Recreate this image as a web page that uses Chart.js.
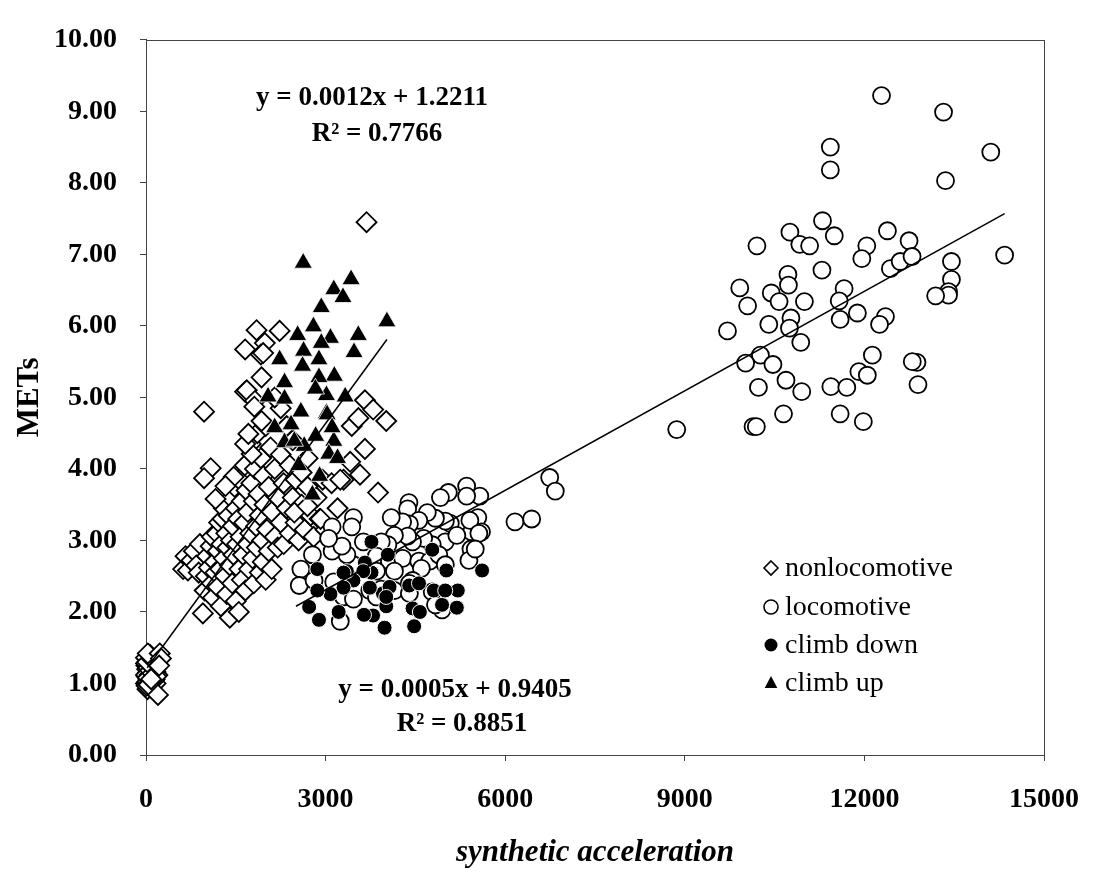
<!DOCTYPE html>
<html><head><meta charset="utf-8">
<script src="https://cdn.jsdelivr.net/npm/chart.js@4"></script>
<style>html,body{margin:0;padding:0;background:#fff}#wrap{width:1101px;height:873px}</style>
</head><body><div id="wrap"><canvas id="c" width="1101" height="873"></canvas></div>
<script>
const xTicks = [0, 3000, 6000, 9000, 12000, 15000];
const yTicks = [0, 1, 2, 3, 4, 5, 6, 7, 8, 9, 10];
const seriesLabels = ['nonlocomotive', 'locomotive', 'climb down', 'climb up'];

const nonlocomotive = [
 [0,1.0],[10,1.1],[20,1.2],[30,1.3],[40,1.05],[50,1.15],[60,1.25],[70,1.35],[80,0.95],[90,1.08],
 [100,1.18],[110,1.28],[120,1.02],[130,1.12],[140,1.22],[150,1.32],[5,1.25],[25,0.92],[45,1.38],[65,1.0],
 [85,1.2],[105,0.98],[125,1.3],[145,1.06],[160,1.16],[170,1.26],[35,1.15],[55,1.05],[75,1.15],[95,1.3],
 [115,1.1],[135,1.2],[15,1.35],[180,1.22],[190,1.12],[0,1.12],[0,1.28],[20,1.02],[40,1.22],[60,1.12],
 [80,1.28],[100,1.05],[120,1.16],[140,1.34],[160,1.0],[10,0.97],[30,1.08],[50,1.3],[70,1.18],[90,1.24],
 [110,1.14],[130,1.04],[150,1.2],[170,1.1],[0,1.36],[20,1.3],[45,0.98],[65,1.4],[85,1.06],[105,1.34],
 [30,1.42],[230,1.42],[200,0.84],[250,1.35],[220,1.25],
 [620,2.6],[660,2.78],[700,2.58],[760,2.72],[800,2.85],[840,2.65],[880,2.55],[900,2.95],[950,1.98],[980,2.3],
 [1000,2.5],[1020,2.78],[1050,2.62],[1080,2.92],[1100,2.4],[1100,3.05],[1120,2.2],[1150,2.7],[1160,2.55],[1180,3.1],
 [1200,2.85],[1200,2.35],[1220,3.25],[1240,2.6],[1250,2.08],[1260,2.95],[1280,3.3],[1300,2.75],[1300,3.45],[1320,2.5],
 [1340,3.1],[1350,2.25],[1360,2.9],[1380,3.35],[1400,1.92],[1400,2.65],[1420,3.0],[1420,3.6],[1440,2.4],[1450,3.2],
 [1460,2.8],[1480,3.75],[1500,2.15],[1500,3.45],[1520,2.95],[1540,3.3],[1550,2.0],[1560,2.6],[1560,3.85],[1580,3.05],
 [1600,3.55],[1600,2.45],[1620,2.8],[1640,3.25],[1650,4.05],[1660,2.3],[1680,3.7],[1700,2.95],[1700,3.4],[1720,2.6],
 [1740,3.1],[1750,4.35],[1760,3.8],[1780,2.75],[1800,3.55],[1800,2.4],[1820,4.0],[1840,3.2],[1850,2.9],[1860,4.5],
 [1880,3.65],[1900,2.55],[1900,3.35],[1920,4.15],[1940,3.0],[1950,2.7],[1960,3.9],[1980,3.5],[2000,2.45],[2000,4.6],
 [2020,3.15],[2050,2.85],[2050,3.75],[2080,4.3],[2100,3.4],[2100,2.6],[2150,3.05],[2150,4.0],[2200,3.6],[2200,2.9],
 [2250,3.25],[2250,4.2],[2300,3.8],[2300,2.95],[2350,3.45],[2400,3.1],[2400,4.05],[2450,3.6],[2500,3.25],[2500,3.85],
 [2550,3.0],[2600,3.5],[2650,3.15],[2700,3.75],[2750,3.35],[2800,3.05],[2850,3.6],[2900,3.3],[2950,3.85],[3000,3.15],
 [3100,3.8],[3200,3.45],[3300,3.85],[2600,3.95],[2700,4.15],[2450,4.4],[2350,4.6],[2250,4.85],[2150,5.0],
 [3684,7.45],[1847,5.94],[2232,5.93],[1985,5.76],[1656,5.67],[1919,5.60],[1957,5.62],[1930,5.28],[1656,5.08],[1683,5.10],
 [1820,4.95],[1810,4.87],[970,4.80],[3657,4.96],[3795,4.83],[4013,4.67],[3437,4.60],[3548,4.71],[3657,4.28],[3575,3.92],
 [3876,3.67],[3410,4.10],[1081,4.01],[970,3.87],[1765,4.21],[1656,4.35],[1710,4.49],[1930,4.67],[3245,3.85],[2916,3.30],
 [2478,3.39],[2697,3.48],[1464,3.89],[1327,3.76],[1162,3.58]
];

const locomotive = [
 [12286,9.22],[13322,8.99],[11431,8.50],[11431,8.18],[14111,8.43],[13355,8.03],[14342,6.99],[11300,7.47],[11497,7.26],[10756,7.31],
 [10921,7.14],[11085,7.12],[10205,7.12],[12385,7.33],[12746,7.19],[12040,7.12],[11957,6.94],[12434,6.80],[12598,6.90],[12796,6.97],
 [13454,6.90],[13454,6.65],[13405,6.48],[13405,6.43],[13190,6.42],[11291,6.78],[10723,6.72],[10731,6.57],[9918,6.53],[10444,6.46],
 [10575,6.34],[10049,6.28],[10998,6.34],[11661,6.52],[11579,6.35],[11883,6.18],[11595,6.09],[12352,6.13],[12253,6.02],[10773,6.11],
 [10748,5.97],[10403,6.02],[9713,5.93],[10937,5.77],[10263,5.59],[10016,5.48],[10472,5.46],[12133,5.59],[12878,5.49],[12800,5.50],
 [11908,5.36],[12049,5.31],[12895,5.18],[10230,5.14],[10690,5.24],[10953,5.08],[11440,5.15],[11706,5.14],[10649,4.77],[11595,4.77],
 [11982,4.66],[10140,4.59],[10195,4.59],[8865,4.55],
 [6743,3.88],[6837,3.69],[6163,3.26],[6442,3.30],
 [5576,3.62],[5356,3.76],[5356,3.62],[5050,3.67],[4918,3.60],[4392,3.53],[4370,3.44],[5543,3.32],[5604,3.12],[5439,3.12],
 [5410,3.28],[5083,3.24],[5000,3.27],[4835,3.31],[4699,3.39],[4557,3.28],[4400,3.23],[4287,3.26],[4096,3.32],[5560,3.10],
 [5428,2.88],[5394,2.72],[5000,2.98],[5192,3.07],[4781,2.94],[4638,3.03],[4452,2.98],[4370,3.06],[4150,3.07],[4040,2.94],
 [3930,2.98],[3849,2.78],[4066,2.71],[4287,2.75],[4557,2.71],[4740,2.71],[4890,2.80],[5000,2.66],[4600,2.61],[4150,2.57],
 [3850,2.57],[3629,2.62],[3465,2.66],[3355,2.80],[3109,2.85],[3273,2.92],[3465,3.32],[3437,3.19],[3109,3.19],[2780,2.80],
 [2587,2.60],[2560,2.37],[2807,2.44],[3136,2.42],[3300,2.21],[3739,2.30],[3930,2.32],[4150,2.30],[3245,1.87],[3465,2.18],
 [3849,2.21],[4781,2.28],[4945,2.03],[4452,2.44],[4400,2.40],[3050,3.03],[3630,2.98],[4400,2.26],[4835,2.10],[5500,2.88]
];

const climbDown = [
 [5614,2.58],[4781,2.87],[5017,2.58],[5208,2.30],[5192,2.06],[4945,2.10],[4808,2.30],[4998,2.30],[4397,2.37],[4560,2.40],
 [4452,2.05],[4575,2.00],[4479,1.80],[3985,1.78],[4013,2.08],[3793,1.95],[3641,1.96],[3958,2.26],[4068,2.35],[3739,2.34],
 [3766,2.55],[3656,2.69],[4040,2.80],[3766,2.98],[3629,2.57],[3465,2.44],[3300,2.34],[3081,2.25],[3218,2.00],[2889,1.89],
 [2725,2.07],[2862,2.30],[2862,2.60],[3355,2.57],[4013,2.21],[3300,2.55]
];

const climbUp = [
 [2626,6.88],[3426,6.65],[3137,6.51],[3290,6.40],[2928,6.26],[4024,6.06],[3546,5.87],[3475,5.63],[2796,5.99],[2533,5.87],
 [3081,5.83],[2928,5.76],[2632,5.65],[2232,5.53],[2889,5.53],[2615,5.44],[3146,5.30],[2889,5.28],[2314,5.21],[2039,5.01],
 [2314,4.98],[2587,4.80],[3014,5.03],[3327,5.01],[3014,4.78],[2423,4.62],[2149,4.58],[2834,4.46],[3137,4.39],[2643,4.32],
 [2314,4.37],[2830,5.12],[3026,4.76],[3109,4.58],[2478,4.39],[3054,4.21],[2780,3.64],[2900,3.9],[2550,4.05],[3200,4.15]
];

const trendSteep = [[20, 1.22], [4024, 5.81]];
const trendLocomotive = [[2505, 2.08], [14342, 7.57]];

const equationSteep = ['y = 0.0012x + 1.2211', 'R² = 0.7766'];
const equationLocomotive = ['y = 0.0005x + 0.9405', 'R² = 0.8851'];

const pts = a => a.map(p => ({x: p[0], y: p[1]}));
const serif = '"Liberation Serif", "Times New Roman", serif';

const framePlugin = {
  id: 'frame',
  beforeDatasetsDraw(chart) {
    const {ctx, chartArea: a} = chart;
    ctx.save();
    ctx.strokeStyle = '#444';
    ctx.lineWidth = 1;
    ctx.strokeRect(Math.round(a.left) + 0.5, Math.round(a.top) + 0.5, Math.round(a.right - a.left), Math.round(a.bottom - a.top));
    ctx.restore();
  }
};

function drawMarker(ctx, style, x, y, r) {
  ctx.beginPath();
  if (style === 'diamond') {
    ctx.moveTo(x, y - r); ctx.lineTo(x + r, y); ctx.lineTo(x, y + r); ctx.lineTo(x - r, y); ctx.closePath();
    ctx.fillStyle = '#fff'; ctx.fill(); ctx.lineWidth = 1.6; ctx.strokeStyle = '#000'; ctx.stroke();
  } else if (style === 'open') {
    ctx.arc(x, y, r, 0, Math.PI * 2);
    ctx.fillStyle = '#fff'; ctx.fill(); ctx.lineWidth = 1.6; ctx.strokeStyle = '#000'; ctx.stroke();
  } else if (style === 'filled') {
    ctx.arc(x, y, r, 0, Math.PI * 2);
    ctx.fillStyle = '#000'; ctx.fill();
  } else {
    ctx.moveTo(x, y - r); ctx.lineTo(x + r * 0.9, y + r * 0.7); ctx.lineTo(x - r * 0.9, y + r * 0.7); ctx.closePath();
    ctx.fillStyle = '#000'; ctx.fill();
  }
}

const legendPlugin = {
  id: 'customLegend',
  afterDraw(chart) {
    const {ctx} = chart;
    const styles = ['diamond', 'open', 'filled', 'triangle'];
    const sizes = [7, 7, 6.5, 7];
    const rowsY = [568, 607, 645, 683];
    ctx.save();
    ctx.font = '28px ' + serif;
    ctx.textBaseline = 'middle';
    ctx.textAlign = 'left';
    seriesLabels.forEach((lab, i) => {
      drawMarker(ctx, styles[i], 771, rowsY[i], sizes[i]);
      ctx.fillStyle = '#000';
      ctx.fillText(lab, 785, rowsY[i] + 1);
    });
    ctx.restore();
  }
};

const equationPlugin = {
  id: 'equations',
  afterDraw(chart) {
    const {ctx} = chart;
    ctx.save();
    ctx.font = 'bold 27px ' + serif;
    ctx.fillStyle = '#000';
    ctx.textAlign = 'center';
    ctx.textBaseline = 'middle';
    ctx.fillText(equationSteep[0], 372, 98);
    ctx.fillText(equationSteep[1], 377, 134);
    ctx.fillText(equationLocomotive[0], 455, 690);
    ctx.fillText(equationLocomotive[1], 462, 724);
    ctx.restore();
  }
};

new Chart(document.getElementById('c'), {
  type: 'scatter',
  data: {
    datasets: [
      {label: 'trend steep', data: pts(trendSteep), showLine: true, pointRadius: 0, borderColor: '#000', borderWidth: 1.5, order: 0},
      {label: 'trend locomotive', data: pts(trendLocomotive), showLine: true, pointRadius: 0, borderColor: '#000', borderWidth: 1.5, order: 0},
      {label: seriesLabels[3], data: pts(climbUp), pointStyle: 'triangle', pointRadius: 10.5, backgroundColor: '#000', borderColor: '#fff', borderWidth: 0.8, order: 1, clip: false},
      {label: seriesLabels[2], data: pts(climbDown), pointStyle: 'circle', pointRadius: 7.5, backgroundColor: '#000', borderColor: '#fff', borderWidth: 1, order: 2, clip: false},
      {label: seriesLabels[1], data: pts(locomotive), pointStyle: 'circle', pointRadius: 8.5, backgroundColor: '#fff', borderColor: '#000', borderWidth: 1.8, order: 3, clip: false},
      {label: seriesLabels[0], data: pts(nonlocomotive), pointStyle: 'rectRot', pointRadius: 10, backgroundColor: '#fff', borderColor: '#000', borderWidth: 1.8, order: 4, clip: false}
    ]
  },
  options: {
    responsive: false,
    animation: false,
    devicePixelRatio: 1,
    layout: {padding: {top: 23, right: 43, left: 0, bottom: 0}},
    plugins: {legend: {display: false}, tooltip: {enabled: false}},
    elements: {point: {hoverRadius: 0}},
    scales: {
      x: {
        type: 'linear', min: 0, max: 15000,
        afterFit(s) { s.height = 118; },
        afterBuildTicks(s) { s.ticks = xTicks.map(v => ({value: v})); },
        ticks: {font: {family: serif, size: 28, weight: 'bold'}, color: '#000', padding: 22, maxRotation: 0, autoSkip: false, callback: v => String(v)},
        grid: {display: true, drawOnChartArea: false, drawTicks: true, tickLength: 6, color: '#444'},
        border: {display: true, color: '#444', width: 1},
        title: {display: true, text: 'synthetic acceleration', color: '#000', font: {family: serif, size: 31, weight: 'bold', style: 'italic', lineHeight: 1}, padding: {top: 0, bottom: 5}}
      },
      y: {
        type: 'linear', min: 0, max: 10,
        afterFit(s) { s.width = 146; },
        afterBuildTicks(s) { s.ticks = yTicks.map(v => ({value: v})); },
        ticks: {font: {family: serif, size: 28, weight: 'bold'}, color: '#000', padding: 23, callback: v => Number(v).toFixed(2)},
        grid: {display: true, drawOnChartArea: false, drawTicks: true, tickLength: 6, color: '#444'},
        border: {display: true, color: '#444', width: 1},
        title: {display: true, text: 'METs', color: '#000', font: {family: serif, size: 31, weight: 'bold', lineHeight: 1}, padding: {top: 14, bottom: 0}}
      }
    }
  },
  plugins: [framePlugin, legendPlugin, equationPlugin]
});
</script>
</body></html>
